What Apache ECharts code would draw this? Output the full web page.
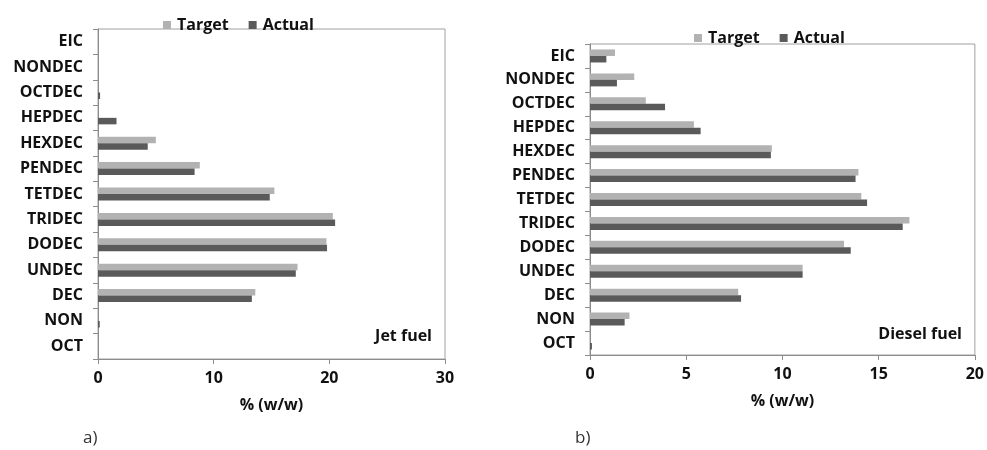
<!DOCTYPE html>
<html>
<head>
<meta charset="utf-8">
<script src="https://cdn.jsdelivr.net/npm/echarts@6/dist/echarts.min.js"></script>
<style>
  html, body { margin: 0; padding: 0; background: #fff; }
  #chart { width: 987px; height: 450px; }
</style>
</head>
<body>
<div id="chart"></div>
<script>
// Hydrocarbon classes, listed bottom to top on the category axis
const categories = ['OCT', 'NON', 'DEC', 'UNDEC', 'DODEC', 'TRIDEC', 'TETDEC', 'PENDEC', 'HEXDEC', 'HEPDEC', 'OCTDEC', 'NONDEC', 'EIC'];

// Jet fuel composition, % (w/w)
const jetTarget = [0, 0, 13.6, 17.25, 19.75, 20.3, 15.25, 8.8, 5.0, 0, 0, 0, 0];
const jetActual = [0, 0.15, 13.3, 17.1, 19.8, 20.5, 14.85, 8.35, 4.3, 1.6, 0.18, 0, 0];

// Diesel fuel composition, % (w/w)
const dieselTarget = [0, 2.05, 7.7, 11.05, 13.2, 16.6, 14.1, 13.95, 9.45, 5.4, 2.9, 2.3, 1.3];
const dieselActual = [0.1, 1.8, 7.85, 11.05, 13.55, 16.25, 14.4, 13.8, 9.4, 5.75, 3.9, 1.4, 0.85];

// Tick labels of the value axes
const jetTicks = [0, 10, 20, 30];
const dieselTicks = [0, 5, 10, 15, 20];

const FONT = '"Open Sans", "DejaVu Sans", sans-serif';
const TARGET_COLOR = '#b2b2b2';
const ACTUAL_COLOR = '#5a5a5a';
const TEXT = '#111111';

function valueAxis(gridIndex, ticks) {
  return {
    type: 'value',
    gridIndex: gridIndex,
    min: ticks[0],
    max: ticks[ticks.length - 1],
    interval: ticks[1] - ticks[0],
    name: '% (w/w)',
    nameLocation: 'middle',
    nameGap: 38,
    nameTextStyle: { fontFamily: FONT, fontSize: 16, fontWeight: 'bold', color: TEXT },
    axisLine: { show: true, lineStyle: { color: '#8c8c8c', width: 1 } },
    axisTick: { show: true, length: 5, lineStyle: { color: '#8c8c8c' } },
    axisLabel: { fontFamily: FONT, fontSize: 16, fontWeight: 'bold', color: TEXT, margin: 11,
                 formatter: v => String(v) },
    splitLine: { show: false }
  };
}

function categoryAxis(gridIndex) {
  return {
    type: 'category',
    gridIndex: gridIndex,
    data: categories,
    boundaryGap: true,
    axisLine: { show: true, lineStyle: { color: '#8c8c8c', width: 1 } },
    axisTick: { show: true, length: 5, alignWithLabel: false, lineStyle: { color: '#8c8c8c' } },
    axisLabel: { fontFamily: FONT, fontSize: 16, fontWeight: 'bold', color: TEXT, margin: 15, interval: 0 },
    splitLine: { show: false }
  };
}

function bars(name, data, color, idx) {
  return {
    name: name,
    type: 'bar',
    xAxisIndex: idx,
    yAxisIndex: idx,
    data: data,
    barWidth: 6.5,
    barGap: '0%',
    itemStyle: { color: color },
    animation: false
  };
}

const legendStyle = {
  itemWidth: 8,
  itemHeight: 8,
  itemGap: 20,
  icon: 'rect',
  textStyle: { fontFamily: FONT, fontSize: 16, fontWeight: 'bold', color: TEXT, padding: [0, 0, 0, 1] },
  data: ['Target', 'Actual'],
  selectedMode: false
};

const chart = echarts.init(document.getElementById('chart'), null, { renderer: 'canvas' });

chart.setOption({
  backgroundColor: '#ffffff',
  animation: false,
  legend: [
    Object.assign({ left: 158, top: 12 }, legendStyle),
    Object.assign({ left: 689, top: 25 }, legendStyle)
  ],
  grid: [
    { left: 98, right: 542, top: 29, bottom: 91, show: true, borderColor: '#a0a0a0', borderWidth: 1, containLabel: false },
    { left: 590, right: 10, top: 44, bottom: 95, show: true, borderColor: '#a0a0a0', borderWidth: 1, containLabel: false }
  ],
  xAxis: [valueAxis(0, jetTicks), valueAxis(1, dieselTicks)],
  yAxis: [categoryAxis(0), categoryAxis(1)],
  series: [
    bars('Target', jetTarget, TARGET_COLOR, 0),
    bars('Actual', jetActual, ACTUAL_COLOR, 0),
    bars('Target', dieselTarget, TARGET_COLOR, 1),
    bars('Actual', dieselActual, ACTUAL_COLOR, 1)
  ],
  graphic: [
    { type: 'text', right: 987 - 432, top: 328,
      style: { text: 'Jet fuel', fontFamily: FONT, fontSize: 16, fontWeight: 'bold', fill: TEXT } },
    { type: 'text', right: 987 - 962, top: 326,
      style: { text: 'Diesel fuel', fontFamily: FONT, fontSize: 16, fontWeight: 'bold', fill: TEXT } },
    { type: 'text', left: 83, top: 430,
      style: { text: 'a)', fontFamily: FONT, fontSize: 17, fontWeight: 400, fill: '#333' } },
    { type: 'text', left: 575, top: 430,
      style: { text: 'b)', fontFamily: FONT, fontSize: 17, fontWeight: 400, fill: '#333' } }
  ]
});
</script>
</body>
</html>
